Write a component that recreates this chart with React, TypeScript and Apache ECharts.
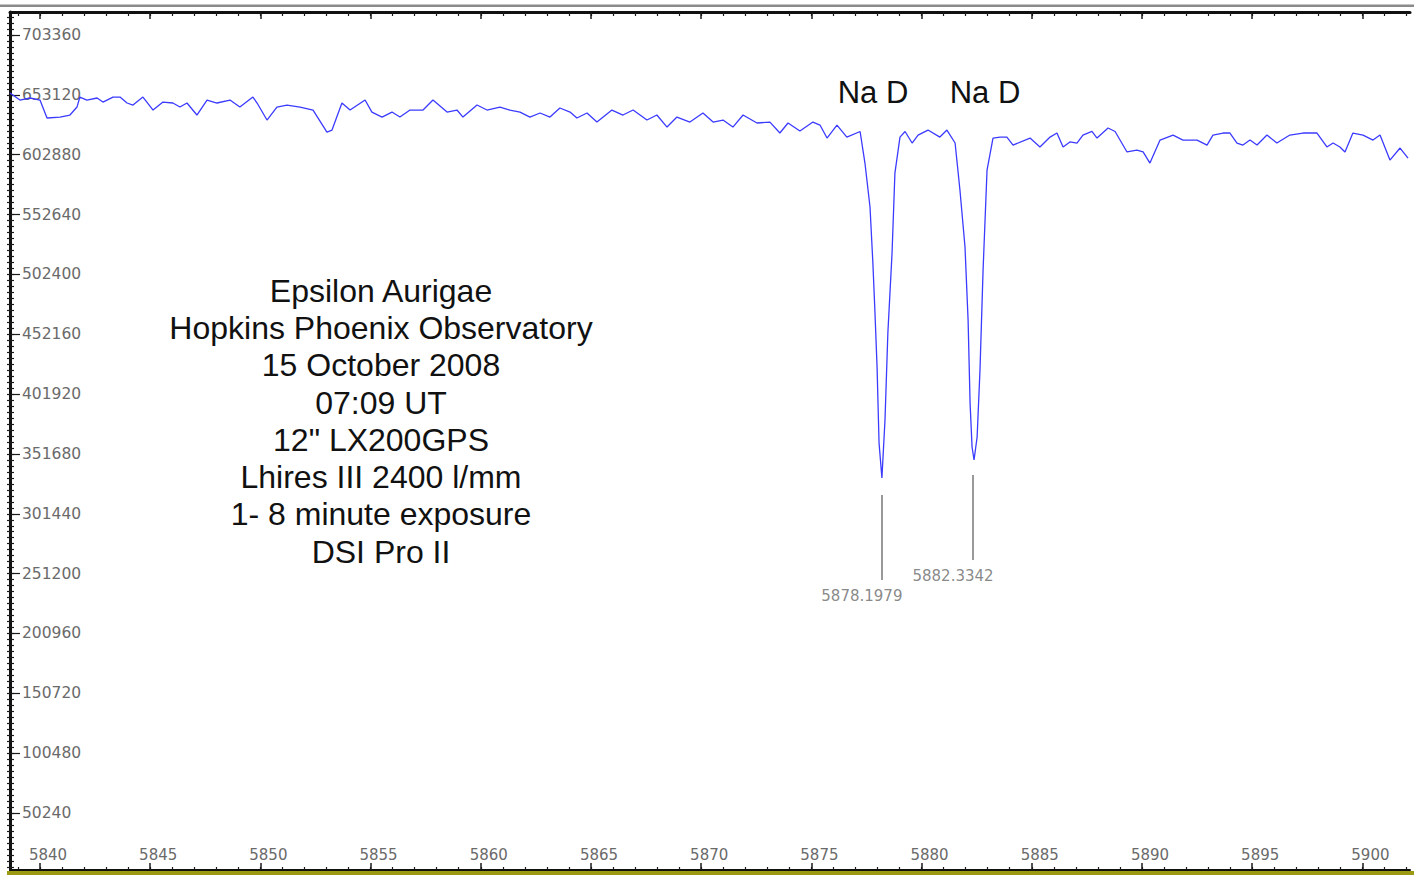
import React, { useEffect, useRef } from "react";
import * as echarts from "echarts";

// Spectrum: wavelength (Angstrom) and flux (ADU)
const wavelength: number[] = [
  5838.64, 5839.09, 5839.55, 5840.0, 5840.32, 5840.91, 5841.36, 5841.68, 5841.81, 5842.13,
  5842.59, 5842.86, 5843.31, 5843.63, 5843.95, 5844.22, 5844.67, 5844.85, 5845.13, 5845.58,
  5846.03, 5846.35, 5846.67, 5847.12, 5847.58, 5848.03, 5848.62, 5849.07, 5849.66, 5849.85,
  5850.3, 5850.75, 5851.21, 5851.8, 5852.39, 5853.02, 5853.25, 5853.7, 5854.07, 5854.75,
  5855.06, 5855.52, 5855.97, 5856.33, 5856.79, 5857.38, 5857.83, 5858.47, 5858.92, 5859.19,
  5859.83, 5860.28, 5860.87, 5861.32, 5861.78, 5862.23, 5862.69, 5863.14, 5863.59, 5864.05,
  5864.36, 5864.82, 5865.27, 5865.95, 5866.45, 5866.91, 5867.54, 5867.99, 5868.45, 5868.9,
  5869.49, 5870.08, 5870.54, 5870.99, 5871.44, 5871.9, 5872.53, 5873.12, 5873.57, 5873.94,
  5874.48, 5875.07, 5875.39, 5875.71, 5876.16, 5876.61, 5877.21, 5877.43, 5877.66, 5877.79,
  5877.88, 5877.98, 5878.07, 5878.2, 5878.34, 5878.47, 5878.66, 5878.79, 5879.02, 5879.25,
  5879.57, 5879.84, 5880.29, 5880.83, 5881.15, 5881.52, 5881.74, 5881.97, 5882.11, 5882.2,
  5882.29, 5882.38, 5882.52, 5882.65, 5882.79, 5882.97, 5883.24, 5883.56, 5883.87, 5884.15,
  5884.92, 5885.37, 5885.83, 5886.14, 5886.42, 5886.73, 5887.05, 5887.32, 5887.73, 5887.96,
  5888.46, 5888.78, 5889.32, 5889.77, 5890.05, 5890.36, 5890.82, 5891.41, 5891.86, 5892.5,
  5892.95, 5893.22, 5893.68, 5893.99, 5894.31, 5894.58, 5894.9, 5895.22, 5895.67, 5896.12,
  5896.71, 5897.3, 5897.94, 5898.39, 5898.67, 5898.98, 5899.21, 5899.57, 5900.03, 5900.48,
  5900.8, 5901.25, 5901.71, 5902.07,
];

const flux: number[] = [
  654700, 648800, 650500, 648800, 633700, 634500, 636200, 642900, 651300, 648800,
  650500, 647100, 651300, 651300, 646300, 644600, 651300, 647100, 640400, 647100,
  646300, 642900, 646300, 636200, 648800, 646300, 648800, 642900, 651300, 646300,
  632000, 642900, 644600, 642900, 640400, 621900, 623600, 646300, 640400, 648800,
  638700, 634500, 638700, 634500, 640400, 640400, 648800, 638700, 640400, 634500,
  644600, 640400, 642900, 640400, 638700, 634500, 637900, 634500, 642100, 638700,
  633700, 637900, 630300, 640400, 636200, 640400, 632000, 636200, 626100, 634500,
  630300, 637900, 630300, 632000, 626100, 636200, 629500, 630300, 621100, 629500,
  622800, 630300, 627800, 616900, 627800, 617700, 622400, 595900, 559000, 512000,
  472500, 424700, 360900, 331500, 380200, 453200, 520400, 587500, 617700, 622400,
  612700, 619400, 623600, 617700, 623600, 612700, 573300, 525400, 464100, 394400,
  357500, 346600, 365900, 422100, 506100, 590000, 616900, 617700, 617700, 611000,
  616900, 609400, 617700, 621100, 609400, 613600, 612700, 619400, 622400, 616900,
  625300, 622400, 605200, 606800, 605200, 595900, 615200, 619400, 615200, 615200,
  611000, 619400, 621100, 621100, 612700, 611000, 615200, 611000, 619400, 612700,
  619400, 621100, 621100, 609400, 612700, 609400, 605200, 621100, 619400, 615200,
  619400, 598400, 608500, 600100,
];

// Axis ticks
const xMajorTicks: number[] = [5840, 5845, 5850, 5855, 5860, 5865, 5870, 5875, 5880, 5885, 5890, 5895, 5900];
const yMajorTicks: number[] = [50240, 100480, 150720, 200960, 251200, 301440, 351680, 401920, 452160, 502400, 552640, 602880, 653120, 703360];

// Line identifications
const lineWavelengths: number[] = [5878.1979, 5882.3342];
const lineLabels: string[] = ["5878.1979", "5882.3342"];
const markerTop: number[] = [317200, 334000];
const markerBottom: number[] = [245800, 262600];

const infoLines: string[] = [
  "Epsilon Aurigae",
  "Hopkins Phoenix Observatory",
  "15 October 2008",
  "07:09 UT",
  '12" LX200GPS',
  "Lhires III 2400 l/mm",
  "1- 8 minute exposure",
  "DSI Pro II",
];

const X_MIN = 5838.64;
const X_MAX = 5902.16;
const Y_MIN = 2400;
const Y_MAX = 722700;

export default function App() {
  const ref = useRef<HTMLDivElement>(null);

  useEffect(() => {
    document.body.style.margin = "0";
    const chart = echarts.init(ref.current!, null, { renderer: "svg" });

    const xMinor: number[] = [];
    for (let v = 5839; v <= 5902; v++) xMinor.push(v);
    const yMinor: number[] = [];
    for (let k = 1; k * 5024 < Y_MAX; k++) yMinor.push(k * 5024);

    const labelFont = "DejaVu Sans";
    const tickColor = "#1a1a1a";

    const baseX = {
      type: "value" as const,
      min: X_MIN,
      max: X_MAX,
      splitLine: { show: false },
    };
    const baseY = {
      type: "value" as const,
      min: Y_MIN,
      max: Y_MAX,
      splitLine: { show: false },
    };

    const spectrum = wavelength.map((w, i) => [w, flux[i]]);

    chart.setOption({
      animation: false,
      backgroundColor: "#ffffff",
      grid: { left: 10, right: 4, top: 12, bottom: 5, containLabel: false },
      xAxis: [
        {
          ...baseX,
          position: "bottom",
          axisLine: { show: true, onZero: false, lineStyle: { color: "#111", width: 2 } },
          axisTick: { show: true, inside: true, length: 7, customValues: xMajorTicks, lineStyle: { color: tickColor, width: 1.5 } },
          axisLabel: {
            show: true,
            inside: true,
            margin: 8,
            customValues: xMajorTicks,
            formatter: (v: number) => String(v),
            fontFamily: labelFont,
            fontSize: 15,
            color: "#6a6a6a",
            padding: [0, 0, 0, 16],
          },
        },
        {
          ...baseX,
          position: "bottom",
          axisLine: { show: false },
          axisTick: { show: true, inside: true, length: 3, customValues: xMinor, lineStyle: { color: tickColor, width: 1.2 } },
          axisLabel: { show: false },
        },
        {
          ...baseX,
          position: "top",
          axisLine: { show: true, onZero: false, lineStyle: { color: "#111", width: 3 } },
          axisTick: { show: true, inside: true, length: 7, customValues: xMajorTicks, lineStyle: { color: tickColor, width: 1.5 } },
          axisLabel: { show: false },
        },
        {
          ...baseX,
          position: "top",
          axisLine: { show: false },
          axisTick: { show: true, inside: true, length: 4, customValues: xMinor, lineStyle: { color: tickColor, width: 1.2 } },
          axisLabel: { show: false },
        },
      ],
      yAxis: [
        {
          ...baseY,
          position: "left",
          axisLine: { show: true, onZero: false, lineStyle: { color: "#111", width: 3 } },
          axisTick: { show: true, inside: true, length: 10, customValues: yMajorTicks, lineStyle: { color: tickColor, width: 1.2 } },
          axisLabel: {
            show: true,
            inside: true,
            margin: 12,
            customValues: yMajorTicks,
            formatter: (v: number) => String(v),
            fontFamily: labelFont,
            fontSize: 15.5,
            color: "#6a6a6a",
          },
        },
        {
          ...baseY,
          position: "left",
          axisLine: { show: false },
          axisTick: { show: true, inside: true, length: 4, customValues: yMinor, lineStyle: { color: tickColor, width: 1.2 } },
          axisLabel: { show: false },
        },
        {
          ...baseY,
          position: "left",
          axisLine: { show: false },
          axisTick: { show: true, inside: false, length: 3, customValues: yMinor, lineStyle: { color: tickColor, width: 1.2 } },
          axisLabel: { show: false },
        },
      ],
      graphic: [
        { type: "rect", shape: { x: 0, y: 4.5, width: 1414, height: 2.5 }, style: { fill: "#8a8a8a" }, z: 10 },
        { type: "rect", shape: { x: 7, y: 871, width: 1407, height: 4 }, style: { fill: "#9c9a12" }, z: 10 },
        {
          type: "text",
          x: 381,
          y: 272,
          style: {
            text: infoLines.join("\n"),
            fontFamily: "Liberation Sans",
            fontSize: 32,
            lineHeight: 37.3,
            fill: "#111",
            textAlign: "center",
            textVerticalAlign: "top",
          },
          z: 10,
        },
        {
          type: "text",
          x: 873,
          y: 92,
          style: { text: "Na D", fontFamily: "Liberation Sans", fontSize: 31, fill: "#111", textAlign: "center", textVerticalAlign: "middle" },
          z: 10,
        },
        {
          type: "text",
          x: 985,
          y: 92,
          style: { text: "Na D", fontFamily: "Liberation Sans", fontSize: 31, fill: "#111", textAlign: "center", textVerticalAlign: "middle" },
          z: 10,
        },
      ],
      series: [
        {
          type: "line",
          xAxisIndex: 0,
          yAxisIndex: 0,
          data: spectrum,
          showSymbol: false,
          symbol: "none",
          lineStyle: { color: "#3b3bff", width: 1.3 },
          silent: true,
        },
        {
          type: "scatter",
          xAxisIndex: 0,
          yAxisIndex: 0,
          symbolSize: 0,
          data: lineWavelengths.map((w, i) => [w, markerBottom[i]]),
          label: {
            show: true,
            position: "bottom",
            distance: 8,
            offset: [-20, 0],
            formatter: (p: any) => lineLabels[p.dataIndex],
            fontFamily: labelFont,
            fontSize: 15,
            color: "#6a6a6a",
          },
          markLine: {
            silent: true,
            symbol: "none",
            label: { show: false },
            lineStyle: { color: "#777", width: 1.5, type: "solid" },
            data: lineWavelengths.map((w, i) => [
              { coord: [w, markerTop[i]] },
              { coord: [w, markerBottom[i]] },
            ]),
          },
          silent: true,
        },
      ],
    });

    return () => chart.dispose();
  }, []);

  return <div ref={ref} style={{ width: 1414, height: 875 }} />;
}
